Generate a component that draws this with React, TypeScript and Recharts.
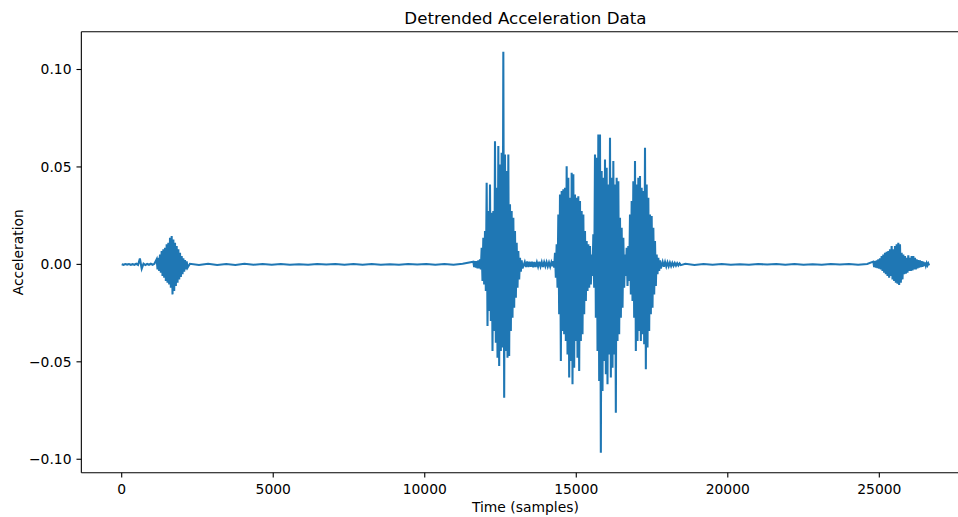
import React from "react";
import { LineChart, Line, XAxis, YAxis, ReferenceLine } from "recharts";

// samples between two envelope readings inside a burst
const SAMPLE_STEP = 55;

const xTicks = [0, 5000, 10000, 15000, 20000, 25000];
const yTicks = [-0.1, -0.05, 0, 0.05, 0.1];
const xDomain = [-1332, 27976];
const yDomain = [-0.1069, 0.1194];

// quiet stretches: start sample, spacing, values
const quietLeadStart = 0;
const quietLeadStep = 60;
const quietLead = [
  0.0001, -0.0002, 0.0002, -0.0001, 0.0002, -0.0002, 0.0001, -0.0002, 0.0003, -0.0003, 0.003,
  -0.0022, 0.0004, -0.0003, 0.0002, -0.0002, 0.0003, -0.0002, 0.0003,
];

const quietMidAStart = 2250;
const quietMidAStep = 300;
const quietMidA = [
  0.0003, -0.0003, 0.0003, -0.0003, 0.0002, -0.0003, 0.0003, -0.0002, 0.0002, -0.0002, 0.0002,
  -0.0002, 0.0001, -0.0002, 0.0002, -0.0001, 0.0002, -0.0002, 0.0002, -0.0002, 0.0002, -0.0002,
  0.0001, -0.0002, 0.0002, -0.0001, 0.0002, -0.0002, 0.0002, -0.0002, 0.0003,
];

const quietGapStart = 13300;
const quietGapStep = 40;
const quietGap = [
  0.0012, -0.0014, 0.0015, -0.0013, 0.0014, -0.0012, 0.0013, -0.0015, 0.0012, -0.0013, 0.0011,
  -0.0012, 0.0013, -0.0011, 0.0012, -0.0013, 0.0011, -0.001, 0.0012, -0.0011, 0.001, -0.0012,
  0.0011, -0.001,
];

const quietTailCStart = 17850;
const quietTailCStep = 40;
const quietTailC = [
  0.0013, -0.0012, 0.0012, -0.0011, 0.001, -0.001, 0.0009, -0.0009, 0.0008, -0.0007, 0.0007,
  -0.0006, 0.0006, -0.0005, 0.0005, -0.0004,
];

const quietMidBStart = 18600;
const quietMidBStep = 300;
const quietMidB = [
  0.0003, -0.0003, 0.0002, -0.0002, 0.0002, -0.0002, 0.0001, -0.0002, 0.0002, -0.0001, 0.0002,
  -0.0002, 0.0002, -0.0002, 0.0001, -0.0002, 0.0002, -0.0001, 0.0002, -0.0002, 0.0002,
];

// bursts: upper and lower peaks read every SAMPLE_STEP samples
const burstAStart = 1154;
const burstAUpper = [
  0.0026, 0.0034, 0.0051, 0.0068, 0.0077, 0.0085, 0.0103, 0.0111, 0.0137, 0.0145, 0.0128, 0.0111,
  0.0094, 0.0077, 0.006, 0.0043, 0.0031, 0.0022, 0.0015,
];
const burstALower = [
  -0.0026, -0.0034, -0.0043, -0.006, -0.0068, -0.0085, -0.0094, -0.0103, -0.012, -0.0154, -0.0137,
  -0.0111, -0.0094, -0.0077, -0.0065, -0.0051, -0.0038, -0.0026, -0.0017,
];

const burstBStart = 11603;
const burstBUpper = [
  0.0014, 0.0017, 0.0017, 0.0021, 0.0026, 0.0085, 0.0137, 0.0171, 0.0419, 0.0274, 0.041, 0.0265,
  0.0274, 0.0632, 0.0393, 0.0607, 0.0513, 0.0573, 0.1091, 0.0564, 0.0479, 0.0564, 0.0308, 0.0274,
  0.0239, 0.0171, 0.0111, 0.0068, 0.0034, 0.0021,
];
const burstBLower = [
  -0.0014, -0.0017, -0.0021, -0.0021, -0.0026, -0.0085, -0.0103, -0.0137, -0.0316, -0.0239, -0.0291,
  -0.0444, -0.0342, -0.0402, -0.0479, -0.0521, -0.0444, -0.0427, -0.0684, -0.0444, -0.0479, -0.047,
  -0.0342, -0.0274, -0.0222, -0.0171, -0.012, -0.0077, -0.0038, -0.0021,
];

const burstCStart = 14243;
const burstCUpper = [
  0.0017, 0.006, 0.0103, 0.0256, 0.0359, 0.0376, 0.0385, 0.0393, 0.0504, 0.0444, 0.0342, 0.047,
  0.0462, 0.0359, 0.0342, 0.035, 0.0325, 0.0274, 0.0256, 0.0171, 0.012, 0.0103, 0.0094, 0.0051,
  0.0154, 0.0564, 0.0547, 0.0667, 0.0667, 0.0479, 0.0444, 0.0538, 0.0496, 0.041, 0.065, 0.0444,
  0.053, 0.041, 0.0444, 0.0427, 0.0239, 0.0188, 0.0137, 0.0051, 0.0085, 0.0094, 0.0256, 0.0325,
  0.0427, 0.053, 0.041, 0.0444, 0.0453, 0.0393, 0.0376, 0.0598, 0.041, 0.0342, 0.0256, 0.0248,
  0.0188, 0.012, 0.0051, 0.0034, 0.0021,
];
const burstCLower = [
  -0.0017, -0.0068, -0.012, -0.0256, -0.0496, -0.0342, -0.0359, -0.0393, -0.0462, -0.0581, -0.0496,
  -0.0615, -0.053, -0.0393, -0.0479, -0.0547, -0.0393, -0.0359, -0.0256, -0.0188, -0.0137, -0.012,
  -0.0103, -0.006, -0.012, -0.0274, -0.0444, -0.0598, -0.0966, -0.065, -0.0496, -0.0564, -0.0615,
  -0.0462, -0.0581, -0.053, -0.0462, -0.0761, -0.0393, -0.0359, -0.0274, -0.0222, -0.012, -0.006,
  -0.0111, -0.0085, -0.0154, -0.0188, -0.0274, -0.0444, -0.0393, -0.0342, -0.0393, -0.0359, -0.041,
  -0.0538, -0.0427, -0.0342, -0.0256, -0.0222, -0.0154, -0.0111, -0.0051, -0.0034, -0.0021,
];

const burstDStart = 24802;
const burstDUpper = [
  0.0014, 0.0017, 0.0021, 0.0026, 0.0031, 0.0043, 0.0051, 0.006, 0.0065, 0.0068, 0.0077, 0.0094,
  0.0077, 0.0094, 0.0103, 0.0111, 0.0103, 0.006, 0.0051, 0.0043, 0.0034, 0.0046, 0.0034, 0.0043,
  0.0043, 0.0034, 0.0026, 0.0022, 0.0021, 0.0017, 0.0014, 0.001, 0.0007, 0.0005,
];
const burstDLower = [
  -0.0014, -0.0017, -0.0019, -0.0022, -0.0026, -0.0034, -0.0043, -0.0051, -0.006, -0.0068, -0.006,
  -0.0077, -0.0085, -0.0094, -0.0099, -0.0106, -0.0094, -0.0077, -0.0051, -0.0048, -0.0043, -0.0034,
  -0.0034, -0.0031, -0.0026, -0.0026, -0.0021, -0.0017, -0.0014, -0.0012, -0.0009, -0.0007, -0.0005,
  -0.0005,
];

type Pt = { t: number; acc: number };

const quiet = (start: number, step: number, vals: number[]): Pt[] =>
  vals.map((v, i) => ({ t: start + i * step, acc: v }));

const burst = (start: number, upper: number[], lower: number[]): Pt[] =>
  upper.flatMap((u, i) => [
    { t: start + i * SAMPLE_STEP, acc: u },
    { t: start + i * SAMPLE_STEP + Math.round(SAMPLE_STEP / 2), acc: lower[i] },
  ]);

const data: Pt[] = [
  ...quiet(quietLeadStart, quietLeadStep, quietLead),
  ...burst(burstAStart, burstAUpper, burstALower),
  ...quiet(quietMidAStart, quietMidAStep, quietMidA),
  ...burst(burstBStart, burstBUpper, burstBLower),
  ...quiet(quietGapStart, quietGapStep, quietGap),
  ...burst(burstCStart, burstCUpper, burstCLower),
  ...quiet(quietTailCStart, quietTailCStep, quietTailC),
  ...quiet(quietMidBStart, quietMidBStep, quietMidB),
  ...burst(burstDStart, burstDUpper, burstDLower),
];

const FONT = "DejaVu Sans, sans-serif";
const tickStyle = { fill: "#000", fontSize: 13.89, fontFamily: FONT };
const fmtY = (v: number) => (v < 0 ? "\u2212" : "") + Math.abs(v).toFixed(2);

export default function App() {
  return (
    <div
      style={{
        position: "absolute",
        left: 0,
        top: 0,
        width: 958,
        height: 517,
        overflow: "hidden",
        background: "#fff",
      }}
    >
      <LineChart
        width={980}
        height={517}
        data={data}
        margin={{ top: 31.7, right: 10.5, bottom: 0, left: 0 }}
      >
        <XAxis
          dataKey="t"
          type="number"
          domain={xDomain}
          allowDataOverflow
          ticks={xTicks}
          interval={0}
          height={44.3}
          tick={tickStyle}
          tickSize={4.86}
          tickMargin={6.5}
          axisLine={{ stroke: "#000", strokeWidth: 1.1 }}
          tickLine={{ stroke: "#000", strokeWidth: 1.1 }}
        />
        <YAxis
          type="number"
          domain={yDomain}
          allowDataOverflow
          ticks={yTicks}
          interval={0}
          width={81.34}
          tick={tickStyle}
          tickFormatter={fmtY}
          tickSize={4.86}
          tickMargin={5}
          axisLine={{ stroke: "#000", strokeWidth: 1.1 }}
          tickLine={{ stroke: "#000", strokeWidth: 1.1 }}
        />
        <ReferenceLine y={yDomain[1]} stroke="#000" strokeWidth={1.1} />
        <ReferenceLine x={xDomain[1]} stroke="#000" strokeWidth={1.1} />
        <Line
          dataKey="acc"
          type="linear"
          stroke="#1f77b4"
          strokeWidth={2.08}
          dot={false}
          activeDot={false}
          isAnimationActive={false}
        />
      </LineChart>
      <svg
        width={958}
        height={517}
        style={{ position: "absolute", left: 0, top: 0, pointerEvents: "none" }}
      >
        <text x={525.4} y={24.1} textAnchor="middle" fontSize={16.67} fontFamily={FONT} fill="#000">
          Detrended Acceleration Data
        </text>
        <text x={525.4} y={511.6} textAnchor="middle" fontSize={13.89} fontFamily={FONT} fill="#000">
          Time (samples)
        </text>
        <text
          transform="translate(22.7 252.2) rotate(-90)"
          textAnchor="middle"
          fontSize={13.89}
          fontFamily={FONT}
          fill="#000"
        >
          Acceleration
        </text>
      </svg>
    </div>
  );
}
